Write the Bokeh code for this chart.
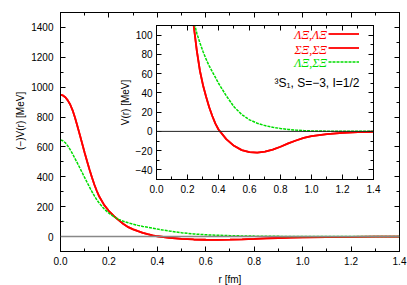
from bokeh.plotting import figure
from bokeh.models import (LinearAxis, SingleIntervalTicker, Span, Label, Legend, LegendItem,
                          Range1d, PrintfTickFormatter, CustomJSTickFormatter)
from bokeh.layouts import column
from bokeh.core.properties import value
from bokeh.embed import file_html
from bokeh.resources import INLINE

# ---- data ----
r_fm = [0.00, 0.01, 0.02, 0.03, 0.04, 0.05, 0.06, 0.07, 0.08, 0.09, 0.10, 0.11, 0.12,
        0.13, 0.14, 0.15, 0.16, 0.18, 0.20, 0.22, 0.24, 0.26, 0.28, 0.30, 0.32, 0.34,
        0.36, 0.38, 0.40, 0.45, 0.50, 0.55, 0.60, 0.65, 0.70, 0.75, 0.80, 0.85, 0.90,
        0.95, 1.00, 1.10, 1.20, 1.30, 1.40]
v_LX_LX = [949, 945, 933, 912, 884, 845, 795, 738, 680, 620, 560, 503, 448,
           395, 347, 305, 268, 212, 171, 138, 110, 84, 63, 48, 36, 25,
           16, 8, 2, -8, -15, -19.5, -21.5, -22, -21, -19, -16, -12.5, -9.5,
           -6.8, -5, -2.8, -1.5, -0.8, -0.4]
v_SX_SX = [949, 945, 933, 912, 884, 845, 795, 738, 680, 620, 560, 503, 448,
           395, 347, 305, 268, 212, 171, 138, 110, 84, 63, 48, 36, 25,
           16, 8, 2, -8, -15, -19.5, -21.5, -22, -21, -19, -16, -12.5, -9.5,
           -6.8, -5, -2.8, -1.5, -0.8, -0.4]
v_LX_SX = [646, 641, 628, 607, 582, 553, 522, 491, 459, 427, 394, 362, 331,
           300, 272, 246, 224, 186, 156, 133, 115, 102, 92, 83, 75, 68,
           62, 56, 50, 37, 25.5, 17.5, 12, 8.5, 6, 4.3, 3, 2, 1.3,
           0.8, 0.5, 0.2, 0.1, 0.05, 0.0]

series_labels = ["ΛΞ,ΛΞ", "ΣΞ,ΣΞ", "ΛΞ,ΣΞ"]
note_text = "³S₁, S=−3, I=1/2"

RED = "#ff0000"
GREEN = "#00dd00"
SANS = "Liberation Sans"
NB = "\u00a0"


def style_axis(ax):
    ax.major_tick_in = 5
    ax.major_tick_out = 0
    ax.minor_tick_in = 3
    ax.minor_tick_out = 0
    ax.axis_line_color = "black"
    ax.major_tick_line_color = "black"
    ax.minor_tick_line_color = "black"
    ax.major_label_text_font = SANS
    ax.major_label_text_font_size = "10px"
    ax.major_label_text_color = "black"
    ax.axis_label_text_font = SANS
    ax.axis_label_text_font_size = "10px"
    ax.axis_label_text_font_style = "normal"
    ax.axis_label_text_color = "black"


def make_axes(fig, xint, yint, xfmt):
    bx = LinearAxis(ticker=SingleIntervalTicker(interval=xint, num_minor_ticks=2), formatter=xfmt)
    ly = LinearAxis(ticker=SingleIntervalTicker(interval=yint, num_minor_ticks=2))
    tx = LinearAxis(ticker=SingleIntervalTicker(interval=xint, num_minor_ticks=2),
                    formatter=CustomJSTickFormatter(code="return ''"))
    ry = LinearAxis(ticker=SingleIntervalTicker(interval=yint, num_minor_ticks=2),
                    formatter=CustomJSTickFormatter(code="return ''"))
    for ax in (bx, ly, tx, ry):
        style_axis(ax)
    tx.major_label_standoff = 0
    ry.major_label_standoff = 0
    fig.add_layout(bx, "below")
    fig.add_layout(ly, "left")
    fig.add_layout(tx, "above")
    fig.add_layout(ry, "right")
    return bx, ly


# ---- main figure ----
p = figure(frame_width=339, frame_height=239, x_range=Range1d(0, 1.40001), y_range=Range1d(-100, 1500),
           output_backend="svg", toolbar_location=None, x_axis_location=None, y_axis_location=None,
           min_border_left=54, min_border_right=14, min_border_top=12, min_border_bottom=34)
p.xgrid.visible = False
p.ygrid.visible = False
p.outline_line_color = "black"
p.background_fill_color = "white"
p.border_fill_color = "white"
bx, ly = make_axes(p, 0.2, 200, PrintfTickFormatter(format="%.1f"))
bx.major_label_standoff = 5
ly.major_label_standoff = 7
bx.axis_label = "r [fm]"
ly.axis_label = NB * 8 + "(−)V(r) [MeV]"
bx.axis_label_standoff = 6
ly.axis_label_standoff = 2

p.add_layout(Span(location=0, dimension="width", line_color="#888888", line_width=1.5))
p.line(r_fm, v_LX_LX, line_color=RED, line_width=1.8)
p.line(r_fm, v_SX_SX, line_color=RED, line_width=1.8)
p.line(r_fm, v_LX_SX, line_color=GREEN, line_width=1.5, line_dash="3 1")

# ---- inset ----
q = figure(frame_width=217, frame_height=154, x_range=Range1d(0, 1.40001), y_range=Range1d(-50, 110),
           output_backend="svg", toolbar_location=None, x_axis_location=None, y_axis_location=None,
           min_border_left=60, min_border_right=10, min_border_top=6, min_border_bottom=20)
q.xgrid.visible = False
q.ygrid.visible = False
q.outline_line_color = "black"
q.background_fill_color = "white"
q.border_fill_alpha = 0
qbx, qly = make_axes(q, 0.2, 20, PrintfTickFormatter(format="%.1f"))
qbx.major_label_standoff = 5
qly.major_label_standoff = 4
qly.axis_label = "V(r) [MeV]"
qly.axis_label_standoff = 2

q.add_layout(Span(location=0, dimension="width", line_color="#222222", line_width=1))
r1 = q.line(r_fm, v_LX_LX, line_color=RED, line_width=1.8)
r2 = q.line(r_fm, v_SX_SX, line_color=RED, line_width=1.8)
r3 = q.line(r_fm, v_LX_SX, line_color=GREEN, line_width=1.5, line_dash="3 1")

leg = Legend(items=[LegendItem(label=value(""), renderers=[r]) for r in (r1, r2, r3)],
             location=(172, 111), glyph_width=31, glyph_height=13, label_width=0,
             label_standoff=0, spacing=1, padding=0, margin=0,
             border_line_alpha=0, background_fill_alpha=0, label_text_font_size="1px")
q.add_layout(leg, "center")

label_y = [99.7, 84.8, 70.9]
label_colors = [RED, RED, GREEN]
for txt, yy, col in zip(series_labels, label_y, label_colors):
    q.add_layout(Label(x=1.10, y=yy, text=txt, text_align="right", text_baseline="middle",
                       text_font="Liberation Serif", text_font_style="italic",
                       text_font_size="12px", text_color=col))
q.add_layout(Label(x=1.31, y=50, text=note_text, text_align="right", text_baseline="middle",
                   text_font=SANS, text_font_size="12px", text_color="black"))

q.styles = {"position": "absolute", "left": "96px", "top": "19px"}

layout = column(p, q)
open("out.html", "w").write(file_html(layout, INLINE))
